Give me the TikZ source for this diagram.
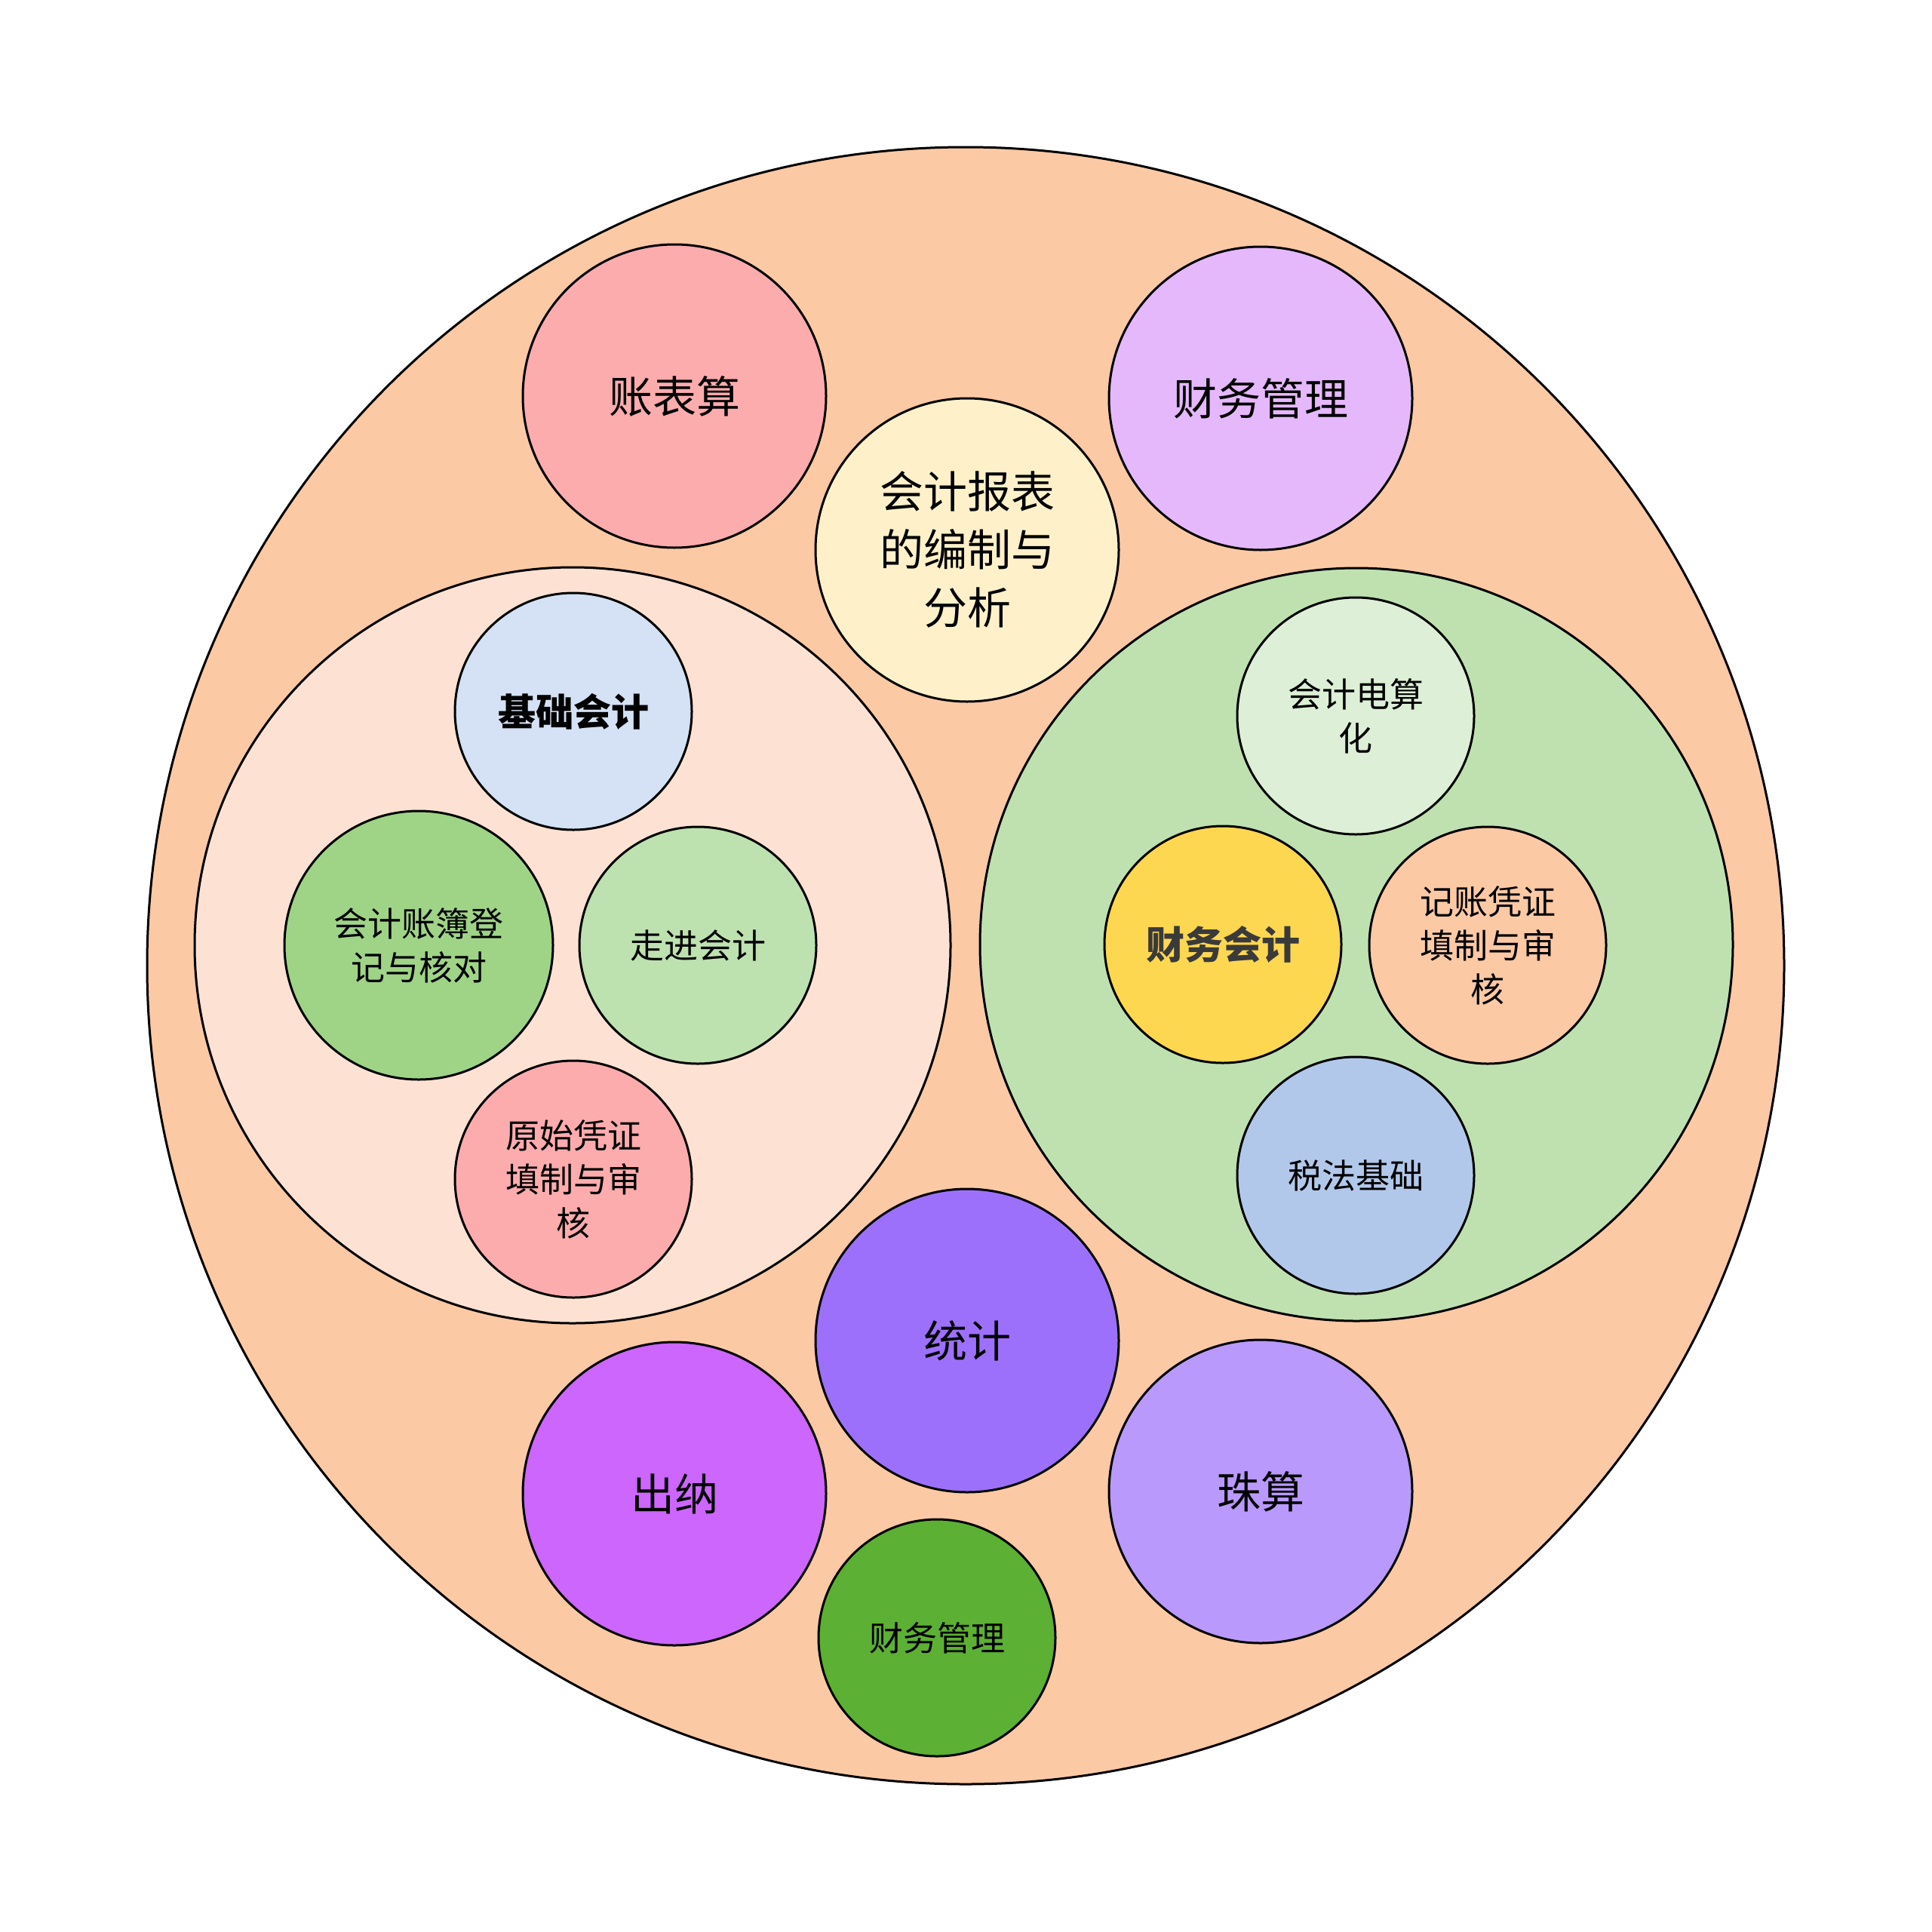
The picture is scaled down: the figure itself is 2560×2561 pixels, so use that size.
\documentclass[tikz,border=0pt]{standalone}
\usepackage{fontspec}
\setmainfont{Noto Sans CJK SC}
\definecolor{cBig}{HTML}{FCC9A5}
\definecolor{cLeft}{HTML}{FDE2D3}
\definecolor{cRight}{HTML}{BFE1B0}
\definecolor{cZhang}{HTML}{FDACAE}
\definecolor{cCwglT}{HTML}{E5B8FB}
\definecolor{cBaobiao}{HTML}{FEF1C9}
\definecolor{cJichu}{HTML}{D5E1F4}
\definecolor{cZhangbu}{HTML}{9FD487}
\definecolor{cZoujin}{HTML}{BEE1B0}
\definecolor{cYuanshi}{HTML}{FDACAE}
\definecolor{cDiansuan}{HTML}{DDEFD6}
\definecolor{cCwkj}{HTML}{FED751}
\definecolor{cJizhang}{HTML}{FCC9A5}
\definecolor{cShuifa}{HTML}{B2C8EA}
\definecolor{cTongji}{HTML}{9D70FC}
\definecolor{cChuna}{HTML}{CC66FC}
\definecolor{cZhusuan}{HTML}{B999FC}
\definecolor{cCwglB}{HTML}{5CB033}
\definecolor{cDark}{HTML}{3A3A3A}
\tikzset{
  bub/.style={circle, draw=black, line width=3pt, inner sep=0pt, align=center, text=black},
  medtxt/.style={font=\fontsize{58}{77}\selectfont},
  smalltxt/.style={font=\fontsize{45}{58}\selectfont},
}
\begin{document}
\begin{tikzpicture}[x=1pt,y=-1pt]
\useasboundingbox (0,0) rectangle (2560,2561);
% containers
\node[bub, fill=cBig, minimum size=2170pt] (big) at (1280,1280) {};
\node[bub, fill=cLeft, minimum size=1002pt] (left) at (759,1253) {};
\node[bub, fill=cRight, minimum size=998pt] (right) at (1798,1252) {};
% medium bubbles
\node[bub, medtxt, fill=cZhang, minimum size=402pt] (zhangbiao) at (894,525) {账表算};
\node[bub, medtxt, fill=cCwglT, minimum size=402pt] (cwglT) at (1671,528) {财务管理};
\node[bub, medtxt, fill=cBaobiao, minimum size=402pt] (baobiao) at (1282,729) {会计报表\\的编制与\\分析};
\node[bub, medtxt, fill=cTongji, minimum size=402pt] (tongji) at (1282,1777) {统计};
\node[bub, medtxt, fill=cChuna, minimum size=402pt] (chuna) at (894,1980) {出纳};
\node[bub, medtxt, fill=cZhusuan, minimum size=402pt] (zhusuan) at (1671,1977) {珠算};
% left group
\node[bub, fill=cJichu, minimum size=314pt, font=\fontsize{50}{62}\selectfont\bfseries] (jichu) at (760,943) {基础会计};
\node[bub, smalltxt, fill=cZhangbu, minimum size=356pt] (zhangbu) at (555,1253) {会计账簿登\\记与核对};
\node[bub, smalltxt, fill=cZoujin, minimum size=314pt] (zoujin) at (925,1253) {走进会计};
\node[bub, smalltxt, fill=cYuanshi, minimum size=314pt] (yuanshi) at (760,1563) {原始凭证\\填制与审\\核};
% right group
\node[bub, smalltxt, fill=cDiansuan, minimum size=314pt] (diansuan) at (1797,949) {会计电算\\化};
\node[bub, fill=cCwkj, minimum size=314pt, font=\fontsize{51}{62}\selectfont\bfseries, text=cDark] (cwkj) at (1621,1252) {财务会计};
\node[bub, smalltxt, fill=cJizhang, minimum size=314pt] (jizhang) at (1972,1253) {记账凭证\\填制与审\\核};
\node[bub, smalltxt, fill=cShuifa, minimum size=314pt] (shuifa) at (1797,1558) {税法基础};
% bottom small
\node[bub, smalltxt, fill=cCwglB, minimum size=314pt] (cwglB) at (1242,2171) {财务管理};
\end{tikzpicture}
\end{document}
